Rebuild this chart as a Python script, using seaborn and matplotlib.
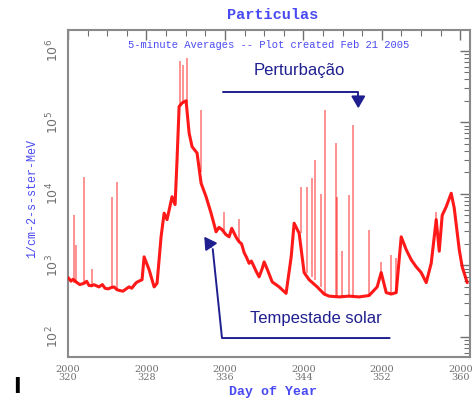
import numpy as np
import pandas as pd
import matplotlib
matplotlib.use("Agg")
import matplotlib.pyplot as plt
import seaborn as sns
from matplotlib.ticker import FixedLocator, MultipleLocator, LogLocator, NullFormatter

# ---------------- data ----------------
days = [320.0, 320.31, 320.5, 320.92, 321.2, 321.63, 321.9, 322.14, 322.4, 322.65,
        323.16, 323.5, 323.78, 324.1, 324.39, 324.7, 325.00, 325.3, 325.61, 326.22,
        326.5, 326.84, 327.0, 327.24, 327.55, 327.76, 328.27, 328.78, 329.08, 329.49,
        329.80, 330.10, 330.61, 330.92, 331.12, 331.33, 331.63, 332.04, 332.35, 332.65,
        333.16, 333.57, 334.08, 334.59, 335.10, 335.4, 335.71, 336.1, 336.43, 336.7,
        336.94, 337.2, 337.45, 337.7, 337.96, 338.2, 338.47, 338.7, 338.98, 339.2,
        339.49, 339.8, 340.00, 340.31, 340.82, 341.53, 342.24, 342.76, 343.06, 343.57,
        344.08, 344.59, 345.41, 346.12, 346.63, 347.65, 348.67, 349.69, 350.71, 351.53,
        351.94, 352.45, 352.96, 353.47, 353.98, 354.49, 355.00, 355.51, 356.02, 356.53,
        357.04, 357.55, 357.86, 358.16, 358.57, 359.08, 359.39, 359.90, 360.20, 360.71]
flux = [676, 603, 640, 575, 540, 562, 600, 525, 520, 537,
        501, 540, 479, 470, 490, 500, 457, 445, 437, 501,
        480, 550, 580, 603, 631, 1318, 871, 501, 562, 2512,
        5370, 4365, 9120, 7080, 30200, 166000, 186000, 200000, 70800, 45700,
        37200, 14100, 9120, 5370, 2950, 3400, 3160, 2700, 2510, 3300,
        2820, 2400, 2140, 2000, 1510, 1300, 1070, 1150, 955, 820,
        692, 900, 1120, 891, 589, 501, 407, 1320, 3890, 2820,
        794, 631, 501, 398, 372, 363, 372, 363, 380, 501,
        794, 417, 398, 417, 2510, 1660, 1200, 955, 794, 575,
        1070, 4370, 1580, 5010, 6610, 10200, 6310, 1660, 955, 575]

spike_days = [320.61, 320.82, 321.63, 322.45, 324.49, 325.00, 331.43, 331.73, 332.14,
              333.57, 335.92, 337.45, 343.78, 344.39, 344.90, 345.20, 345.82, 346.22,
              347.35, 347.45, 347.96, 348.67, 349.08, 350.71, 351.94, 352.96, 353.47,
              357.55]
spike_base = [560, 560, 560, 530, 490, 457, 170000, 186000, 190000,
              20000, 3000, 2140, 2800, 794, 700, 630, 500, 400,
              370, 370, 370, 370, 363, 372, 700, 398, 417,
              4000]
spike_peak = [5000, 1950, 17400, 890, 9120, 14800, 708000, 631000, 794000,
              148000, 5600, 4500, 12600, 12600, 16600, 30200, 10000, 148000,
              51300, 8900, 1580, 9550, 91200, 3160, 1120, 1410, 1260,
              5600]

x_major = [320, 328, 336, 344, 352, 360]
x_labels = ["2000\n320", "2000\n328", "2000\n336", "2000\n344", "2000\n352", "2000\n360"]
y_major = [1e2, 1e3, 1e4, 1e5, 1e6]
y_labels = [r"$10^{2}$", r"$10^{3}$", r"$10^{4}$", r"$10^{5}$", r"$10^{6}$"]

title = "Particulas"
subtitle = "5-minute Averages -- Plot created Feb 21 2005"
ylabel = "1/cm-2-s-ster-MeV"
xlabel = "Day of Year"
note_top = "Perturbação"
note_bottom = "Tempestade solar"

# ---------------- figure ----------------
sns.set_theme(style="white")
plt.rcParams["font.family"] = ["DejaVu Sans"]

BLUE = "#4a4af2"
NAVY = "#1f1f8f"
GRAY = "#707070"
RED = "#ff0000"

fig = plt.figure(figsize=(4.77, 3.98), dpi=100)
ax = fig.add_axes([0.1426, 0.103, 0.8428, 0.8216])

df = pd.DataFrame({"day": days, "flux": flux})
ax.vlines(spike_days, spike_base, spike_peak, color=RED, lw=1.2, alpha=0.5, zorder=2)
sns.lineplot(data=df, x="day", y="flux", ax=ax, color=RED, lw=2.2, alpha=0.9,
             estimator=None, sort=False, zorder=3)

ax.set_yscale("log")
ax.set_xlim(320, 361)
ax.set_ylim(10 ** 1.72, 10 ** 6.29)

ax.xaxis.set_major_locator(FixedLocator(x_major))
ax.set_xticklabels(x_labels)
ax.xaxis.set_minor_locator(MultipleLocator(2))
ax.yaxis.set_major_locator(FixedLocator(y_major))
ax.set_yticklabels(y_labels, rotation=90, va="center")
ax.yaxis.set_minor_locator(LogLocator(base=10, subs=np.arange(2, 10)))
ax.yaxis.set_minor_formatter(NullFormatter())

ax.tick_params(axis="both", which="major", direction="in", length=7, width=1.0,
               color=GRAY, top=True, right=True, labelcolor=GRAY, labelsize=8, pad=5)
ax.tick_params(axis="both", which="minor", direction="in", length=4, width=0.8,
               color=GRAY, top=True, right=True)
ax.tick_params(axis="x", labelsize=7, pad=6)
for lab in ax.get_xticklabels():
    lab.set_family("DejaVu Serif")
    lab.set_linespacing(0.85)
for lab in ax.get_yticklabels():
    lab.set_fontsize(9)

for s in ax.spines.values():
    s.set_color("#8a8a8a")
    s.set_linewidth(1.5)

ax.set_xlabel("")
ax.set_ylabel("")
fig.text(0.572, 0.016, xlabel, color=BLUE, fontsize=9.5, family="Liberation Mono",
         fontweight="bold", ha="center", va="center")
fig.text(0.068, 0.50, ylabel, color=BLUE, fontsize=8.5, family="Liberation Mono",
         rotation=90, ha="center", va="center")
fig.text(0.572, 0.962, title, color=BLUE, fontsize=11, family="Liberation Mono",
         fontweight="bold", ha="center", va="center")
ax.text(0.5, 0.955, subtitle, transform=ax.transAxes, color=BLUE, fontsize=7.6,
        family="Liberation Mono", ha="center", va="center")

# annotations
ax.text(0.575, 0.877, note_top, transform=ax.transAxes, color=NAVY, fontsize=12,
        family="Liberation Sans", ha="center", va="center")
ax.plot([0.385, 0.722, 0.722], [0.81, 0.81, 0.79], transform=ax.transAxes,
        color=NAVY, lw=1.4, zorder=5)
ax.annotate("", xy=(0.722, 0.752), xycoords="axes fraction",
            xytext=(0.722, 0.80), textcoords="axes fraction",
            arrowprops=dict(arrowstyle="-|>,head_width=0.35,head_length=0.6",
                            color=NAVY, lw=1.4))

ax.text(0.617, 0.118, note_bottom, transform=ax.transAxes, color=NAVY, fontsize=12,
        family="Liberation Sans", ha="center", va="center")
ax.plot([0.80, 0.383, 0.36], [0.058, 0.058, 0.33], transform=ax.transAxes,
        color=NAVY, lw=1.4, zorder=5)
ax.annotate("", xy=(0.335, 0.375), xycoords="axes fraction",
            xytext=(0.36, 0.33), textcoords="axes fraction",
            arrowprops=dict(arrowstyle="-|>,head_width=0.35,head_length=0.6",
                            color=NAVY, lw=1.4))

fig.text(0.036, 0.002, "I", color="black", fontsize=15, fontweight="bold",
         ha="center", va="bottom")

fig.savefig("out.png", dpi=100)
